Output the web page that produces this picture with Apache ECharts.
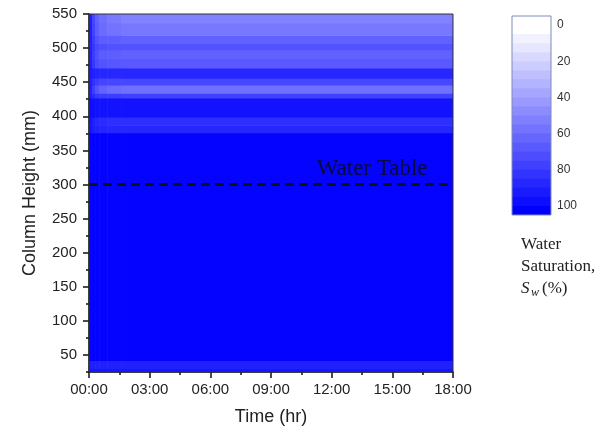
<!DOCTYPE html>
<html>
<head>
<meta charset="utf-8">
<script src="https://cdn.jsdelivr.net/npm/echarts@6/dist/echarts.min.js"></script>
<style>
  html, body { margin: 0; padding: 0; background: #fff; }
  #chart { width: 609px; height: 433px; }
</style>
</head>
<body>
<div id="chart"></div>
<script>
// Time column edges (hours since start of drainage)
const timeEdges = [0, 0.15, 0.3, 0.5, 0.9, 1.6, 18];
// Height band edges (mm), bottom to top
const heightEdges = [25, 30, 42, 376, 387, 399, 427, 434, 446, 456, 471, 485, 497, 507, 519, 537, 550];
// Water saturation (%) per time column, one value per height band (bottom to top)
const satCol0 = [92, 88, 99, 92, 92, 95, 89, 87, 88, 90, 88, 88, 88, 88, 88, 88];
const satCol1 = [92, 88, 99, 89, 88, 94, 83, 76, 81, 88, 79, 77, 79, 77, 74, 73];
const satCol2 = [92, 87, 99, 87, 85, 93, 79, 67, 76, 86, 71, 69, 72, 68, 64, 62];
const satCol3 = [92, 87, 99, 86, 83, 93, 77, 61, 73, 85, 67, 64, 69, 64, 58, 56];
const satCol4 = [92, 87, 99, 85, 82, 93, 76, 58, 72, 85, 66, 63, 68, 63, 55, 52];
const satCol5 = [92, 87, 99, 85, 82, 93, 75, 56, 72, 85, 65, 62, 68, 62, 53, 49];
const saturationColumns = [satCol0, satCol1, satCol2, satCol3, satCol4, satCol5];

// Axis ticks and labels
const heightLabelValues = [50, 100, 150, 200, 250, 300, 350, 400, 450, 500, 550];
const timeTickHours = [0, 3, 6, 9, 12, 15, 18];

// Water table
const waterTableHeight = 300;
const waterTableText = 'Water Table';
const waterTableTextAnchor = [14.0, 323];

// Colour scale legend: step edges and the saturation each step shows
const legendEdges = [-5, 0, 5, 10, 15, 20, 25, 30, 35, 40, 45, 50, 55, 60, 65, 70, 75, 80, 85, 90, 95, 100, 105];
const legendLevels = [0, 0, 5, 10, 15, 20, 25, 30, 35, 40, 45, 50, 55, 60, 65, 70, 75, 80, 85, 90, 95, 100];
const legendLabelValues = [0, 20, 40, 60, 80, 100];

// Build [t0, t1, h0, h1, saturation] cells
const cells = [];
saturationColumns.forEach((col, i) => {
  col.forEach((v, j) => {
    cells.push([timeEdges[i], timeEdges[i + 1], heightEdges[j], heightEdges[j + 1], v]);
  });
});
const legendCells = legendLevels.map((v, k) => [0, 1, legendEdges[k], legendEdges[k + 1], v]);

function renderBlock(params, api) {
  const a = api.coord([api.value(0), api.value(2)]);
  const b = api.coord([api.value(1), api.value(3)]);
  const x = Math.min(a[0], b[0]);
  const y = Math.min(a[1], b[1]);
  return {
    type: 'rect',
    shape: { x: x, y: y, width: Math.abs(b[0] - a[0]) + 0.6, height: Math.abs(b[1] - a[1]) + 0.6 },
    style: { fill: api.visual('color') }
  };
}

const pad2 = n => (n < 10 ? '0' : '') + n;
const sansFont = '"Liberation Sans", Arial, sans-serif';
const serifFont = '"Liberation Serif", "Times New Roman", serif';

const chart = echarts.init(document.getElementById('chart'), null, { renderer: 'canvas' });
chart.setOption({
  animation: false,
  backgroundColor: '#ffffff',
  grid: [
    { left: 89, right: 156, top: 14, bottom: 61, show: true, z: 10,
      backgroundColor: 'transparent', borderColor: '#333', borderWidth: 1 },
    { left: 512, width: 39, top: 16, height: 199, show: true, z: 10,
      backgroundColor: 'transparent', borderColor: '#7f8cb8', borderWidth: 1 }
  ],
  visualMap: {
    show: false,
    type: 'continuous',
    min: 0,
    max: 100,
    dimension: 4,
    seriesIndex: [0, 1],
    inRange: { color: ['#ffffff', '#0000ff'] }
  },
  xAxis: [
    {
      gridIndex: 0, type: 'value', min: 0, max: 18, interval: 3,
      name: 'Time (hr)', nameLocation: 'middle', nameGap: 36,
      nameTextStyle: { fontFamily: sansFont, fontSize: 18, color: '#222' },
      axisLine: { onZero: false, lineStyle: { color: '#111', width: 1.5 } },
      axisTick: { length: 6, lineStyle: { color: '#111', width: 1.5 },
                  customValues: timeTickHours },
      minorTick: { show: true, splitNumber: 2, length: 3, lineStyle: { color: '#111', width: 1.5 } },
      axisLabel: { fontFamily: sansFont, fontSize: 15, color: '#222', margin: 10,
                   customValues: timeTickHours,
                   formatter: v => pad2(Math.round(v)) + ':00' },
      splitLine: { show: false }
    },
    { gridIndex: 1, type: 'value', min: 0, max: 1, show: false }
  ],
  yAxis: [
    {
      gridIndex: 0, type: 'value', min: 25, max: 550, interval: 25, position: 'left',
      name: 'Column Height (mm)', nameLocation: 'middle', nameGap: 50,
      nameTextStyle: { fontFamily: sansFont, fontSize: 18, color: '#222' },
      axisLine: { onZero: false, lineStyle: { color: '#111', width: 1.5 } },
      axisTick: { length: 3, lineStyle: { color: '#111', width: 1.5 } },
      axisLabel: { fontFamily: sansFont, fontSize: 15, color: '#222', margin: 12,
                   customValues: heightLabelValues },
      splitLine: { show: false }
    },
    {
      gridIndex: 0, type: 'value', min: 25, max: 550, position: 'left',
      axisLine: { show: false },
      axisTick: { show: true, length: 6, lineStyle: { color: '#111', width: 1.5 },
                  customValues: heightLabelValues },
      axisLabel: { show: false },
      splitLine: { show: false }
    },
    {
      gridIndex: 1, type: 'value', min: -5, max: 105, inverse: true, position: 'right',
      axisLine: { show: false },
      axisTick: { show: false },
      axisLabel: { fontFamily: sansFont, fontSize: 12, color: '#333', margin: 6,
                   customValues: legendLabelValues },
      splitLine: { show: false }
    }
  ],
  series: [
    {
      type: 'custom',
      name: 'Water saturation',
      xAxisIndex: 0, yAxisIndex: 0,
      renderItem: renderBlock,
      clip: true,
      encode: { x: [0, 1], y: [2, 3] },
      data: cells,
      markLine: {
        silent: true,
        symbol: 'none',
        label: { show: false },
        lineStyle: { color: '#111', width: 3, type: [9, 5] },
        data: [{ yAxis: waterTableHeight }]
      },
      markPoint: {
        silent: true,
        symbol: 'circle',
        symbolSize: 0,
        label: {
          show: true, position: 'inside', formatter: waterTableText,
          fontFamily: serifFont, fontSize: 23, color: '#0a0a40'
        },
        data: [{ coord: waterTableTextAnchor }]
      }
    },
    {
      type: 'custom',
      name: 'Scale',
      xAxisIndex: 1, yAxisIndex: 2,
      renderItem: renderBlock,
      clip: true,
      encode: { x: [0, 1], y: [2, 3] },
      data: legendCells
    }
  ],
  graphic: [
    { type: 'text', left: 521, top: 236,
      style: { text: 'Water', font: '17px ' + serifFont, fill: '#222' } },
    { type: 'text', left: 521, top: 258,
      style: { text: 'Saturation,', font: '17px ' + serifFont, fill: '#222' } },
    { type: 'text', left: 521, top: 280,
      style: { text: 'S', font: 'italic 17px ' + serifFont, fill: '#222' } },
    { type: 'text', left: 531, top: 287,
      style: { text: 'w', font: 'italic 12px ' + serifFont, fill: '#222' } },
    { type: 'text', left: 542, top: 280,
      style: { text: '(%)', font: '17px ' + serifFont, fill: '#222' } }
  ]
});
</script>
</body>
</html>
